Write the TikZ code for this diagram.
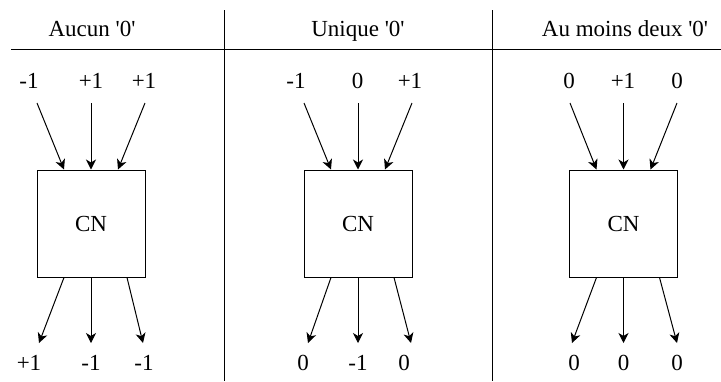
\documentclass[tikz,border=0pt]{standalone}
\usepackage{fontspec}
\setmainfont{Liberation Serif}[Ligatures=TeXOff]
\usetikzlibrary{arrows.meta}
\begin{document}
\begin{tikzpicture}[x=1pt,y=-1pt,
  txt/.style={font=\fontsize{23}{27}\selectfont, inner sep=0pt, anchor=base},
  cnbox/.style={draw, line width=1pt, minimum width=108pt, minimum height=107pt, inner sep=0pt, font=\fontsize{23}{27}\selectfont},
  arr/.style={line width=1pt, -{Stealth[length=10pt,width=10pt,inset=3pt]}},
  sep/.style={line width=1pt}]
\useasboundingbox (0,0) rectangle (721,381);
% dividers
\coordinate (hl) at (11,49.5);
\coordinate (hr) at (721,49.5);
\coordinate (v1t) at (224.5,10);
\coordinate (v1b) at (224.5,381);
\coordinate (v2t) at (492.3,10);
\coordinate (v2b) at (492.3,381);
\draw[sep] (hl) -- (hr);
\draw[sep] (v1t) -- (v1b);
\draw[sep] (v2t) -- (v2b);
% headers
\node[txt] (h1) at (92,36) {Aucun '0'};
\node[txt] (h2) at (358,36) {Unique '0'};
\node[txt] (h3) at (625,36) {Au moins deux '0'};
% panel 1
\node[cnbox] (b1) at (91,223.5) {CN};
\node[txt] (t11) at (29,88) {-1};
\node[txt] (t12) at (91,88) {+1};
\node[txt] (t13) at (144,88) {+1};
\node[txt] (o11) at (29,370) {+1};
\node[txt] (o12) at (91,370) {-1};
\node[txt] (o13) at (144,370) {-1};
\coordinate (s11) at (37,103);
\coordinate (s12) at (91,103);
\coordinate (s13) at (145,103);
\coordinate (e11) at (39,343);
\coordinate (e12) at (91,343);
\coordinate (e13) at (143,343);
\draw[arr] (s11) -- ([xshift=-27pt]b1.north);
\draw[arr] (s12) -- (b1.north);
\draw[arr] (s13) -- ([xshift=27pt]b1.north);
\draw[arr] ([xshift=-27pt]b1.south) -- (e11);
\draw[arr] (b1.south) -- (e12);
\draw[arr] ([xshift=36pt]b1.south) -- (e13);
% panel 2
\node[cnbox] (b2) at (358,223.5) {CN};
\node[txt] (t21) at (296,88) {-1};
\node[txt] (t22) at (357.5,88) {0};
\node[txt] (t23) at (410,88) {+1};
\node[txt] (o21) at (303,370) {0};
\node[txt] (o22) at (358,370) {-1};
\node[txt] (o23) at (404,370) {0};
\coordinate (s21) at (304,103);
\coordinate (s22) at (358,103);
\coordinate (s23) at (412,103);
\coordinate (e21) at (308,343);
\coordinate (e22) at (358,343);
\coordinate (e23) at (411,343);
\draw[arr] (s21) -- ([xshift=-27pt]b2.north);
\draw[arr] (s22) -- (b2.north);
\draw[arr] (s23) -- ([xshift=27pt]b2.north);
\draw[arr] ([xshift=-27pt]b2.south) -- (e21);
\draw[arr] (b2.south) -- (e22);
\draw[arr] ([xshift=36pt]b2.south) -- (e23);
% panel 3
\node[cnbox] (b3) at (623.5,223.5) {CN};
\node[txt] (t31) at (569,88) {0};
\node[txt] (t32) at (623,88) {+1};
\node[txt] (t33) at (677,88) {0};
\node[txt] (o31) at (574,370) {0};
\node[txt] (o32) at (623.5,370) {0};
\node[txt] (o33) at (677,370) {0};
\coordinate (s31) at (570,103);
\coordinate (s32) at (623.5,103);
\coordinate (s33) at (677,103);
\coordinate (e31) at (572,343);
\coordinate (e32) at (623.5,343);
\coordinate (e33) at (677,343);
\draw[arr] (s31) -- ([xshift=-27pt]b3.north);
\draw[arr] (s32) -- (b3.north);
\draw[arr] (s33) -- ([xshift=27pt]b3.north);
\draw[arr] ([xshift=-27pt]b3.south) -- (e31);
\draw[arr] (b3.south) -- (e32);
\draw[arr] ([xshift=36pt]b3.south) -- (e33);
\end{tikzpicture}
\end{document}
